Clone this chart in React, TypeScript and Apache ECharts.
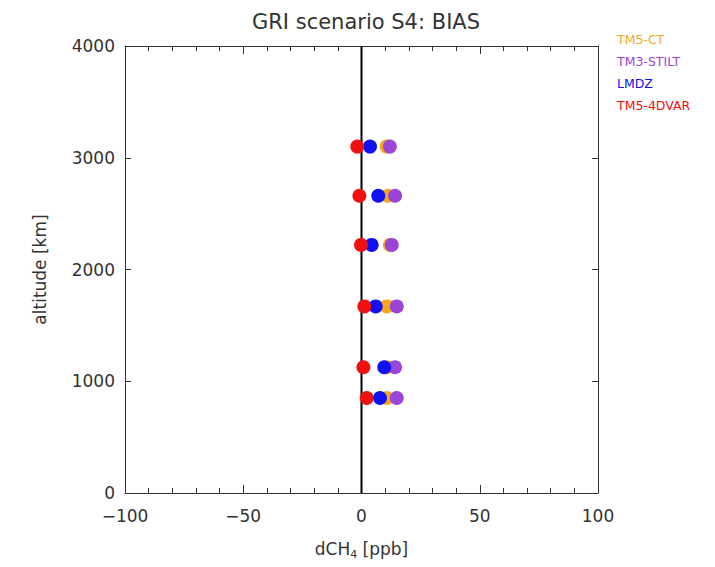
import React, { useEffect, useRef } from "react";
import * as echarts from "echarts";

const altitudes = [3100, 2660, 2220, 1670, 1125, 850];
const tm5ct = [10.6, 11.1, 12.0, 10.7, 11.0, 10.7];
const tm3stilt = [12.0, 14.2, 12.8, 14.9, 14.2, 14.9];
const lmdz = [3.6, 7.1, 4.3, 6.0, 9.6, 7.8];
const tm54dvar = [-1.8, -0.9, -0.2, 1.2, 0.8, 2.2];
const seriesNames = ["TM5-CT", "TM3-STILT", "LMDZ", "TM5-4DVAR"];
const seriesColors = ["#f5a81c", "#9a45d8", "#1010f0", "#f01010"];
const xTicks = [-100, -50, 0, 50, 100];
const yTicks = [0, 1000, 2000, 3000, 4000];

export default function App() {
  const ref = useRef<HTMLDivElement>(null);
  useEffect(() => {
    if (!ref.current) return;
    const chart = echarts.init(ref.current, null, { renderer: "svg" });
    const allData = [tm5ct, tm3stilt, lmdz, tm54dvar];
    const font = "DejaVu Sans";
    const axisLine = { show: true, onZero: false, lineStyle: { color: "#333", width: 1 } };
    chart.setOption({
      animation: false,
      backgroundColor: "#ffffff",
      title: {
        text: "GRI scenario S4: BIAS",
        left: 361,
        textAlign: "center",
        top: 6,
        textStyle: { fontFamily: font, fontWeight: "normal", fontSize: 21, color: "#333" },
      },
      grid: { left: 125, right: 117, top: 46, bottom: 74 },
      xAxis: [
        {
          type: "value",
          min: xTicks[0],
          max: xTicks[xTicks.length - 1],
          interval: 50,
          axisLine,
          axisTick: { show: true, inside: true, length: 8, lineStyle: { color: "#333" } },
          minorTick: { show: true, splitNumber: 5, length: 5, lineStyle: { color: "#333" } },
          splitLine: { show: false },
          axisLabel: {
            fontFamily: font,
            fontSize: 17,
            color: "#333",
            margin: 14,
            formatter: (v: number) => (v < 0 ? "\u2212" + Math.abs(v) : String(v)),
          },
          name: "{a|dCH}{s|4}{a| [ppb]}",
          nameLocation: "middle",
          nameGap: 44,
          nameTextStyle: {
            rich: {
              a: { fontFamily: font, fontSize: 17, color: "#333" },
              s: { fontFamily: font, fontSize: 11, color: "#333", verticalAlign: "bottom", padding: [12, 0, 0, 0] },
            },
          },
        },
        {
          type: "value",
          position: "top",
          min: xTicks[0],
          max: xTicks[xTicks.length - 1],
          interval: 50,
          axisLine,
          axisTick: { show: true, inside: true, length: 8, lineStyle: { color: "#333" } },
          minorTick: { show: true, splitNumber: 5, length: 5, lineStyle: { color: "#333" } },
          splitLine: { show: false },
          axisLabel: { show: false },
        },
      ],
      yAxis: [
        {
          type: "value",
          min: yTicks[0],
          max: yTicks[yTicks.length - 1],
          interval: 1000,
          axisLine,
          axisTick: { show: true, inside: true, length: 6, lineStyle: { color: "#333" } },
          splitLine: { show: false },
          axisLabel: { fontFamily: font, fontSize: 17, color: "#333", margin: 10, formatter: (v: number) => String(v) },
          name: "altitude [km]",
          nameLocation: "middle",
          nameGap: 77,
          nameTextStyle: { fontFamily: font, fontSize: 17, color: "#333" },
        },
        {
          type: "value",
          position: "right",
          min: yTicks[0],
          max: yTicks[yTicks.length - 1],
          interval: 1000,
          axisLine,
          axisTick: { show: true, inside: true, length: 6, lineStyle: { color: "#333" } },
          splitLine: { show: false },
          axisLabel: { show: false },
        },
      ],
      series: [
        {
          type: "line",
          data: [
            [0, yTicks[0]],
            [0, yTicks[yTicks.length - 1]],
          ],
          symbol: "none",
          lineStyle: { color: "#000", width: 2 },
          silent: true,
          z: 1,
        },
        ...seriesNames.map((name, i) => ({
          type: "scatter",
          name,
          data: allData[i].map((v, j) => [v, altitudes[j]]),
          symbol: "circle",
          symbolSize: 14,
          itemStyle: { color: seriesColors[i], opacity: 1 },
          z: 2 + i,
        })),
      ],
      graphic: seriesNames.map((name, i) => ({
        type: "text",
        left: 617,
        top: 33 + i * 22,
        style: { text: name, fill: seriesColors[i], fontFamily: font, fontSize: 12.5 },
      })),
    });
    return () => chart.dispose();
  }, []);
  return <div ref={ref} style={{ position: "absolute", left: 0, top: 0, width: 715, height: 567 }} />;
}
